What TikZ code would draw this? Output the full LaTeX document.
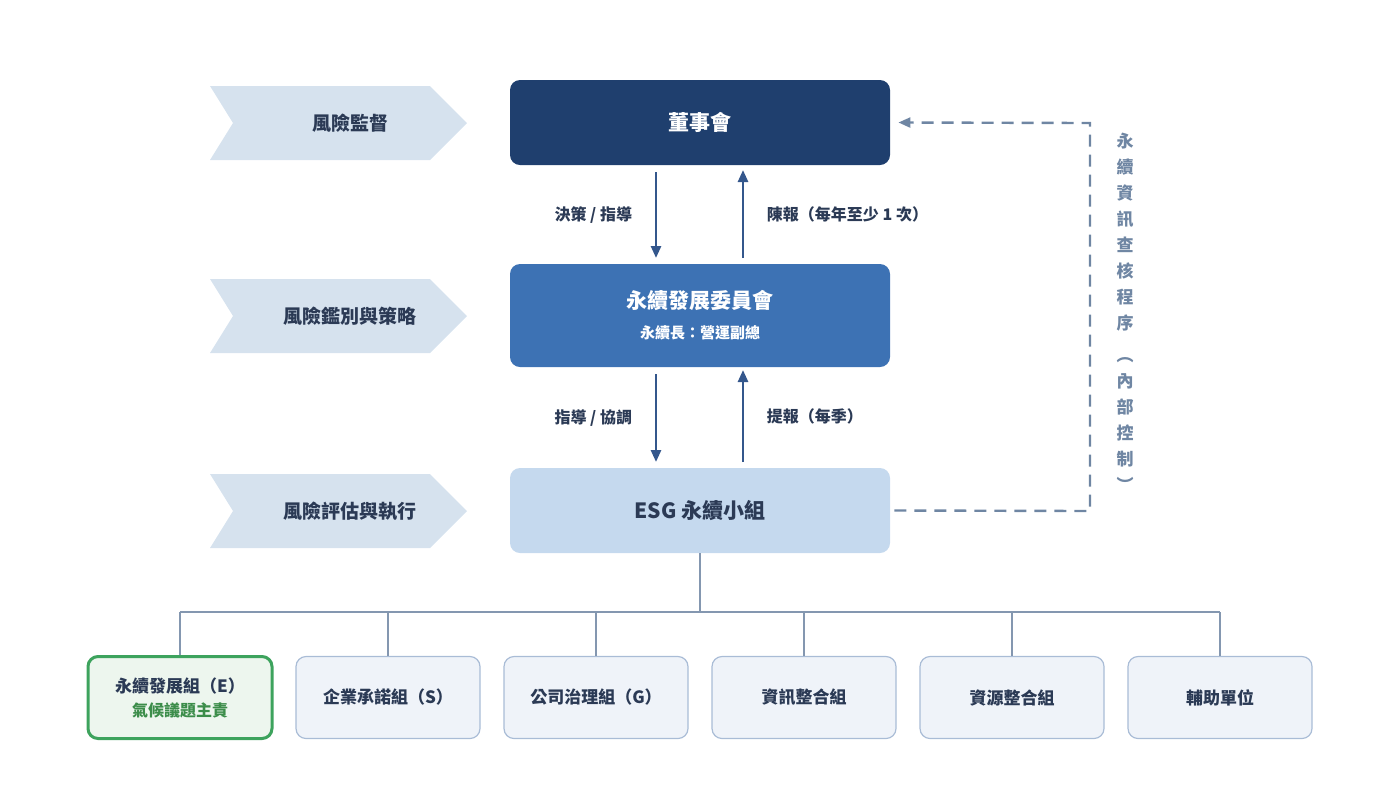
\documentclass[tikz,border=0pt]{standalone}
\usepackage{fontspec}
\setmainfont{Noto Sans CJK TC}
\usetikzlibrary{arrows.meta}
\definecolor{navy}{HTML}{1F3F6E}
\definecolor{mid}{HTML}{3D72B4}
\definecolor{lite}{HTML}{C5D9EE}
\definecolor{chev}{HTML}{D6E2EE}
\definecolor{txt}{HTML}{2B3A55}
\definecolor{arr}{HTML}{34578C}
\definecolor{dashc}{HTML}{6F86A3}
\definecolor{subf}{HTML}{EFF3F9}
\definecolor{subd}{HTML}{A9BCD6}
\definecolor{gf}{HTML}{EDF6EE}
\definecolor{gd}{HTML}{3DA35D}
\definecolor{gt}{HTML}{3C8D4A}
\definecolor{tree}{HTML}{8497B0}
\begin{document}
\begin{tikzpicture}[x=0.5pt,y=-0.5pt,
  main/.style={rounded corners=5pt,minimum width=190pt,align=center,inner sep=0pt},
  sub/.style={draw=subd,fill=subf,line width=0.6pt,rounded corners=5pt,minimum width=92pt,minimum height=41pt,align=center,font=\fontsize{8.5}{11}\selectfont\bfseries,text=txt},
  lab/.style={font=\fontsize{8}{10}\selectfont\bfseries,text=txt},
  flow/.style={arr,line width=1.3pt,-{Triangle[length=6pt,width=5pt]}},
  chevlab/.style={font=\fontsize{9.5}{12}\selectfont\bfseries,text=txt}]
\useasboundingbox (0,0) rectangle (1400,800);
% chevrons
\foreach \y/\t/\n in {86/風險監督/c1,279/風險鑑別與策略/c2,474/風險評估與執行/c3}{
  \fill[chev] (210,\y) -- (430,\y) -- (467,\y+37) -- (430,\y+74) -- (210,\y+74) -- (233,\y+37) -- cycle;
  \node[chevlab] (\n) at (350,\y+37) {\t};
}
\node[main,fill=navy,minimum height=42.5pt,text=white,font=\fontsize{10.5}{13}\selectfont\bfseries] (board) at (700,122.5) {董事會};
\node[main,fill=mid,minimum height=51.5pt,text=white] (comm) at (700,315.5) {{\fontsize{10.5}{14}\selectfont\bfseries 永續發展委員會}\\[3pt]{\fontsize{7.5}{9}\selectfont\bfseries 永續長：營運副總}};
\node[main,fill=lite,minimum height=42.5pt,text=txt,font=\fontsize{10.5}{13}\selectfont\bfseries] (esg) at (700,510.5) {ESG 永續小組};
% arrows
\coordinate (a1) at (656,172); \coordinate (a2) at (656,258);
\coordinate (b1) at (743,258); \coordinate (b2) at (743,170);
\draw[flow] (a1) -- (a2) node[midway,left=8pt,lab]{決策 / 指導};
\draw[flow] (b1) -- (b2) node[midway,right=8pt,lab]{陳報（每年至少 1 次）};
\coordinate (c1) at (656,374); \coordinate (c2) at (656,462);
\coordinate (d1) at (743,462); \coordinate (d2) at (743,370);
\draw[flow] (c1) -- (c2) node[midway,left=8pt,lab]{指導 / 協調};
\draw[flow] (d1) -- (d2) node[midway,right=8pt,lab]{提報（每季）};
% dashed feedback
\coordinate (e1) at (1090,511); \coordinate (e2) at (1090,123);
\draw[dashc,line width=1.2pt,dash pattern=on 6pt off 4pt,-{Triangle[length=6pt,width=5pt]}] ([xshift=2pt]esg.east) -- (e1) -- (e2) -- ([xshift=4pt]board.east);
\node[text=dashc,font=\fontsize{8.5}{13}\selectfont\bfseries,align=center] (vt) at (1125,312) {永\\續\\資\\訊\\查\\核\\程\\序\\[3pt]︵\\內\\部\\控\\制\\︶};
% tree
\coordinate (t0) at (700,612);
\draw[tree,line width=1pt] (esg.south) -- (t0);
\draw[tree,line width=1pt] (180,612) -- (1220,612);
\node[sub,draw=gd,fill=gf,line width=1.5pt] (s1) at (180,697.5) {永續發展組（E）\\[1pt]{\color{gt}\fontsize{8}{10}\selectfont 氣候議題主責}};
\node[sub] (s2) at (388,697.5) {企業承諾組（S）};
\node[sub] (s3) at (596,697.5) {公司治理組（G）};
\node[sub] (s4) at (804,697.5) {資訊整合組};
\node[sub] (s5) at (1012,697.5) {資源整合組};
\node[sub] (s6) at (1220,697.5) {輔助單位};
\foreach \s/\x in {s1/180,s2/388,s3/596,s4/804,s5/1012,s6/1220}
  \draw[tree,line width=1pt] (\x,612) -- (\s.north);
\end{tikzpicture}
\end{document}
